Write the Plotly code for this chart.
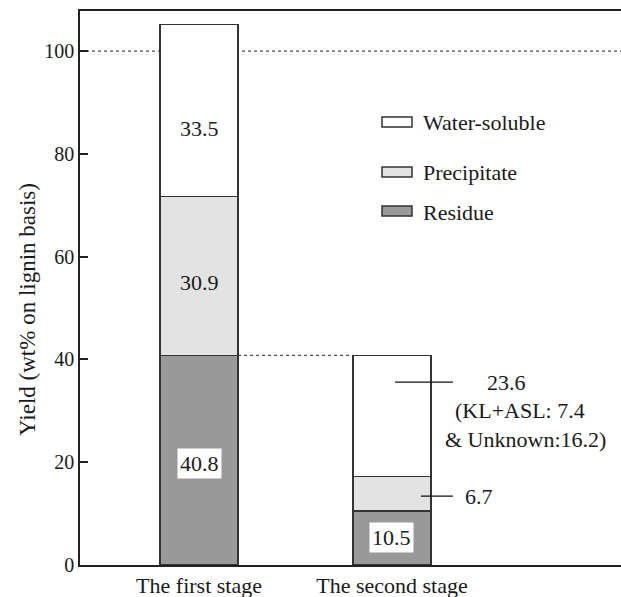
import plotly.graph_objects as go

stages = ["The first stage", "The second stage"]
residue = [40.8, 10.5]
precipitate = [30.9, 6.7]
water_soluble = [33.5, 23.6]
yticks = [0, 20, 40, 60, 80, 100]

FONT = "Liberation Serif, Times New Roman, DejaVu Serif, serif"
x = [0, 1]
bw = 0.404
line = dict(color="#333333", width=1.5)

fig = go.Figure()
fig.add_bar(x=x, y=residue, width=bw, marker=dict(color="#999999", line=line), name="Residue")
fig.add_bar(x=x, y=precipitate, width=bw, marker=dict(color="#e3e3e3", line=line), name="Precipitate")
fig.add_bar(x=x, y=water_soluble, width=bw, marker=dict(color="#ffffff", line=line), name="Water-soluble")

shapes = []
shapes.append(dict(type="line", xref="paper", yref="y", x0=0, x1=1, y0=100, y1=100,
                   line=dict(color="#222222", width=1, dash="dot"), layer="below"))
total2 = residue[1] + precipitate[1] + water_soluble[1]
shapes.append(dict(type="line", xref="x", yref="y", x0=x[0] + bw / 2, x1=x[1] - bw / 2,
                   y0=residue[0], y1=total2, line=dict(color="#222222", width=1, dash="dot"), layer="below"))
shapes.append(dict(type="line", xref="x", yref="y", x0=1.016, x1=1.316, y0=35.6, y1=35.6,
                   line=dict(color="#111111", width=1.3)))
shapes.append(dict(type="line", xref="x", yref="y", x0=1.150, x1=1.316, y0=13.4, y1=13.4,
                   line=dict(color="#111111", width=1.3)))

fnt = dict(family=FONT, size=22, color="#1a1a1a")
ann = []
def A(**kw):
    d = dict(showarrow=False, font=fnt, xanchor="center", yanchor="middle")
    d.update(kw)
    ann.append(d)
A(x=0, y=85, text=f"{water_soluble[0]}")
A(x=0, y=54.9, text=f"{precipitate[0]}")
A(x=0, y=19.8, text=f"{residue[0]}", bgcolor="white", borderpad=2)
A(x=1, y=5.4, text=f"{residue[1]}", bgcolor="white", borderpad=2)
A(x=1.482, y=35.6, text=f"{water_soluble[1]}", xanchor="left")
A(x=1.316, y=30.0, text="(KL+ASL: 7.4", xanchor="left")
A(x=1.264, y=24.4, text="& Unknown:16.2)", xanchor="left")
A(x=1.368, y=13.4, text=f"{precipitate[1]}", xanchor="left")

W, H = 621, 597
ml, mr, mt, mb = 80, 0, 11, 32
pw, ph = W - ml - mr, H - mt - mb
def px(xp):
    return (xp - ml) / pw
def py(yp):
    return 1 - (yp - mt) / ph
legend_items = [("Water-soluble", "#ffffff", 122), ("Precipitate", "#e3e3e3", 172), ("Residue", "#999999", 211)]
for name, col, yc in legend_items:
    shapes.append(dict(type="rect", xref="paper", yref="paper", x0=px(382), x1=px(412),
                       y0=py(yc + 5), y1=py(yc - 5), fillcolor=col, line=dict(color="#333333", width=1.5)))
    A(xref="paper", yref="paper", x=px(421), y=py(yc + 1), text=name, xanchor="left")

# y-axis title
A(xref="paper", yref="paper", x=px(27), y=py(310), text="Yield (wt% on lignin basis)", textangle=-90,
  font=dict(family=FONT, size=23, color="#1a1a1a"))

fig.update_layout(
    barmode="stack", width=W, height=H, showlegend=False,
    margin=dict(l=ml, r=mr, t=mt, b=mb),
    plot_bgcolor="white", paper_bgcolor="white",
    font=dict(family=FONT, color="#1a1a1a"),
    shapes=shapes, annotations=ann,
    xaxis=dict(range=[-0.617, 2.187], tickvals=x, ticktext=stages, showline=True, mirror=True,
               linecolor="#222222", linewidth=1.5, showgrid=False, zeroline=False, ticks="",
               tickfont=dict(family=FONT, size=22, color="#1a1a1a")),
    yaxis=dict(range=[0, 107.8], tickvals=yticks, showline=True, linecolor="#222222", linewidth=1.5,
               showgrid=False, zeroline=False, ticks="inside", ticklen=8, tickwidth=2, tickcolor="#222222",
               tickfont=dict(family=FONT, size=20, color="#1a1a1a")),
)
fig.write_html("out.html", config={"displayModeBar": False},
               post_script="document.body.style.margin='0';document.body.style.overflow='hidden';")
